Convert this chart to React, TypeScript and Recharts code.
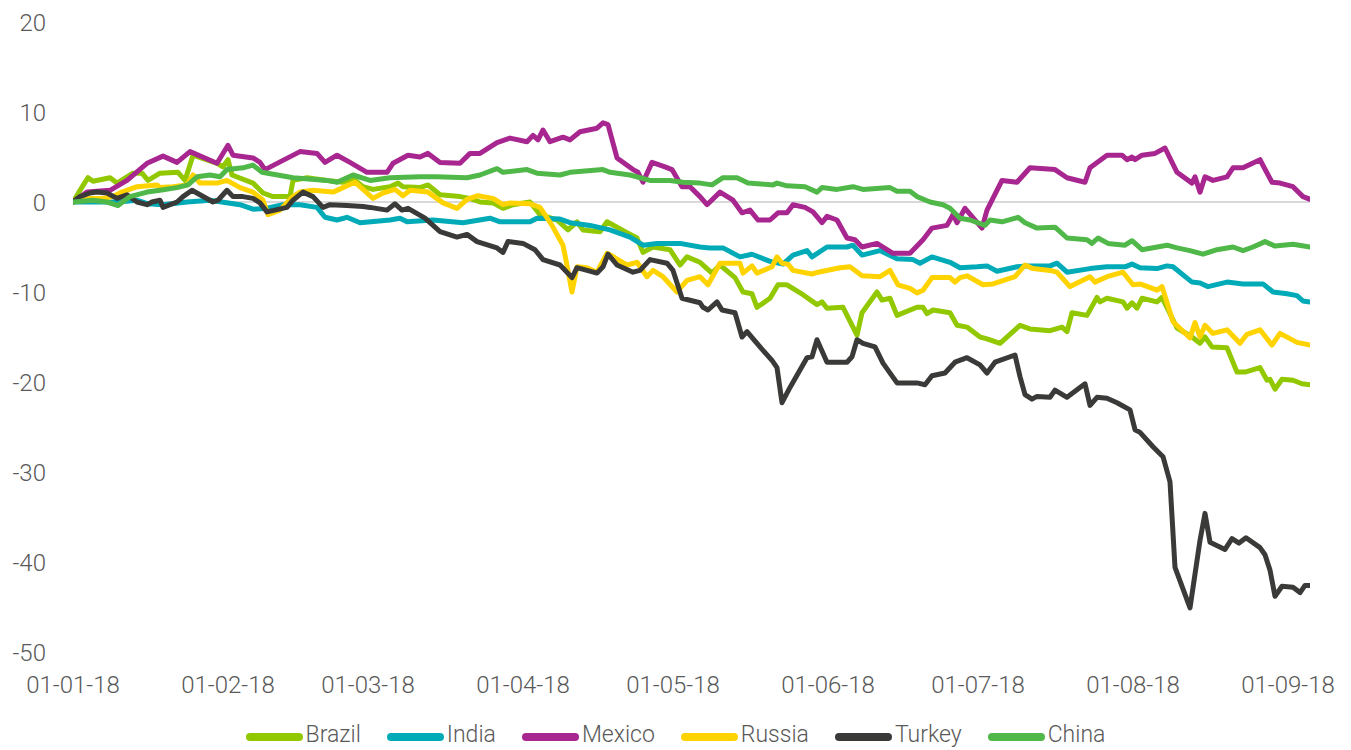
import React from "react";
import { LineChart, Line, XAxis, YAxis, ReferenceLine } from "recharts";

// x positions are days since 01-01-18
const brazilDays = [0, 1.4, 3, 4, 7.4, 8.8, 10.8, 12, 13.8, 15, 17.4, 21, 22.4, 24, 28.8, 30, 31, 31.8, 36, 38, 40, 43.4, 44, 46.8, 50.8, 54, 56, 58, 60, 63.4, 65, 66, 69.4, 71, 73.4, 77.4, 79.4, 81.4, 84, 86, 88, 91.4, 93.4, 96.8, 99, 100.8, 102, 105.4, 106.8, 110.8, 112.8, 114, 116, 119.4, 121.4, 122.8, 125.4, 127.8, 129.4, 132.4, 134, 135.8, 136.8, 139.4, 141, 142.8, 146, 148.8, 149.8, 150.8, 154, 156.8, 157.8, 160.8, 161.8, 163.4, 164.8, 168.8, 170, 170.8, 172, 175.4, 176.8, 178.8, 181.4, 182.8, 185.4, 189.4, 191.4, 195.4, 197.8, 198.8, 199.8, 202.8, 204.8, 205.4, 206.8, 210, 210.8, 211.8, 212.8, 213.8, 216.8, 217.8, 220.8, 223.8, 225.4, 226.4, 227.8, 230.8, 232.8, 234.4, 237.4, 238.8, 239.4, 240.4, 241.8, 244, 245.8, 247.4];
const brazilValues = [0, 1.3, 2.7, 2.3, 2.7, 2.1, 2.8, 3.2, 3.2, 2.4, 3.2, 3.3, 2.4, 5.2, 4.3, 3.9, 4.7, 3.0, 2.1, 1.0, 0.6, 0.6, 2.4, 2.7, 2.4, 2.2, 2.6, 1.7, 1.4, 1.7, 2.1, 1.7, 1.6, 1.9, 0.8, 0.6, 0.4, 0, -0.1, -0.7, -0.3, 0, -1.4, -2.0, -3.1, -2.2, -3.1, -3.3, -2.2, -3.4, -4.0, -5.6, -5.0, -5.3, -7.0, -6.1, -6.7, -7.9, -7.0, -8.4, -10.0, -10.2, -11.7, -10.7, -9.2, -9.2, -10.3, -11.4, -11.1, -11.8, -11.7, -14.8, -12.3, -10.0, -10.9, -10.7, -12.6, -11.7, -11.7, -12.4, -12.0, -12.3, -13.7, -13.9, -15.0, -15.2, -15.7, -13.7, -14.1, -14.3, -13.9, -14.4, -12.3, -12.6, -10.6, -11.1, -10.7, -11.1, -11.8, -11.2, -11.8, -10.7, -11.1, -10.6, -14.0, -15.0, -15.7, -15.0, -16.1, -16.2, -18.9, -18.9, -18.4, -19.8, -19.7, -20.8, -19.7, -19.8, -20.2, -20.3];

const indiaDays = [0, 9, 12.8, 15, 18, 22.8, 27.4, 33.4, 36, 38.8, 42, 45.4, 48.8, 50.4, 52.8, 54.8, 57.4, 63.4, 65.4, 66.8, 72, 78, 83.4, 85.4, 91.4, 92.8, 97.4, 99.4, 103.4, 107.4, 111.4, 114, 116.8, 121.4, 125.4, 127.4, 130, 133.4, 135.8, 139.4, 142, 144, 146.8, 147.8, 150.8, 154.8, 156, 157.8, 161.4, 164.8, 168, 169.4, 171.8, 175.4, 177.4, 180.8, 182.8, 184.8, 188.8, 190.8, 195.4, 196.8, 198.8, 203.4, 206.8, 210.4, 211.8, 213.4, 216.8, 218.8, 220, 223.8, 225.4, 227, 230.8, 234, 238, 240, 242.8, 244.8, 246, 247.4];
const indiaValues = [0, 0, 0.2, -0.2, -0.3, 0, 0.2, -0.3, -0.8, -0.7, -0.3, -0.3, -0.6, -1.7, -2.0, -1.7, -2.3, -2.0, -1.8, -2.2, -2.0, -2.3, -1.8, -2.2, -2.2, -1.8, -1.9, -2.3, -2.6, -3.1, -3.9, -4.8, -4.6, -4.6, -5.0, -5.1, -5.1, -6.1, -5.8, -6.6, -6.9, -5.9, -5.4, -6.1, -5.0, -5.0, -4.8, -5.9, -5.4, -6.3, -6.4, -6.8, -6.1, -6.7, -7.3, -7.2, -7.1, -7.7, -7.2, -7.1, -7.1, -6.8, -7.8, -7.4, -7.2, -7.2, -6.9, -7.3, -7.4, -7.1, -7.2, -8.9, -9.0, -9.4, -8.9, -9.1, -9.1, -10.0, -10.2, -10.4, -11.0, -11.1];

const mexicoDays = [0, 2.8, 7.4, 10.8, 14.8, 18, 20.8, 23.4, 28.8, 31, 32, 36, 37.4, 38.4, 45.4, 48.8, 50.4, 52.8, 55.4, 58.8, 62.8, 64, 67, 69.4, 71, 73.4, 77.4, 79.4, 81.4, 84.8, 87.4, 90.8, 92, 93, 94, 95.4, 98, 99.4, 101.4, 104.8, 106, 107, 108.8, 112, 113, 114, 115.8, 118.4, 119.8, 121.8, 123.4, 125.4, 126.8, 129.4, 132, 133.8, 135.4, 137, 139.4, 141, 142.8, 144, 146.4, 148, 149.8, 150.8, 152.8, 154.8, 156.4, 157.8, 160.8, 164, 167.4, 170, 171.8, 174.8, 176, 176.8, 178.4, 181.8, 182.8, 185.8, 188.8, 191.4, 196.4, 198.8, 202.4, 203.4, 206.8, 209.8, 210.8, 211.8, 212.4, 213.8, 216.4, 218.4, 220.8, 223.8, 224.4, 225.4, 226.4, 228, 230.8, 232, 234, 237.4, 239.8, 241.4, 244, 246, 247.4];
const mexicoValues = [0, 1.1, 1.3, 2.4, 4.3, 5.1, 4.4, 5.6, 4.3, 6.3, 5.2, 4.9, 4.4, 3.6, 5.6, 5.4, 4.4, 5.2, 4.4, 3.3, 3.3, 4.3, 5.2, 5.0, 5.4, 4.4, 4.3, 5.4, 5.4, 6.6, 7.1, 6.7, 7.4, 6.9, 8.0, 6.7, 7.2, 6.9, 7.8, 8.2, 8.8, 8.6, 4.9, 3.6, 3.3, 2.2, 4.4, 3.9, 3.6, 1.7, 1.7, 0.6, -0.3, 1.1, 0.2, -1.2, -0.9, -2.0, -2.0, -1.2, -1.2, -0.3, -0.6, -1.1, -2.3, -1.6, -2.0, -4.0, -4.2, -5.0, -4.6, -5.7, -5.7, -4.2, -2.9, -2.6, -1.4, -2.3, -0.7, -2.9, -0.9, 2.4, 2.2, 3.8, 3.6, 2.7, 2.2, 3.8, 5.2, 5.2, 4.7, 5.0, 4.7, 5.2, 5.4, 6.0, 3.3, 2.1, 2.8, 1.1, 2.8, 2.4, 2.8, 3.8, 3.8, 4.7, 2.2, 2.1, 1.7, 0.6, 0.3];

const russiaDays = [0, 3.4, 6, 8, 9.8, 12.8, 16.8, 17.4, 20, 22.8, 24, 25.4, 28.8, 30.8, 33.4, 36, 38, 39, 41.4, 44, 45.4, 48, 52, 56.4, 60, 62, 64.4, 66, 67.4, 71, 74, 76.8, 78.8, 81, 84, 86, 87.4, 91.4, 93.4, 95.8, 98, 99, 99.8, 100.8, 102.8, 104.8, 106.8, 108.4, 110.8, 112.8, 114.8, 116, 118, 120.8, 122.8, 125.4, 127, 129.4, 133.4, 134, 135.8, 136.8, 139.8, 140.8, 141.8, 143, 144, 147.8, 149, 153.4, 155.4, 157.8, 161.4, 163.4, 165, 167.4, 168.8, 170, 171.8, 175.4, 176.4, 177.4, 178.8, 182, 184, 188.4, 190.4, 192, 195.4, 196.8, 199.4, 203.4, 204.4, 206.8, 210, 212, 213.4, 216.8, 217.8, 220, 223.4, 224.4, 225.4, 226.4, 228, 230.8, 233.4, 234.8, 237.4, 239.8, 241.4, 244.8, 247.4];
const russiaValues = [0, 0.4, 0.4, 0.6, 1.1, 1.7, 1.9, 1.6, 1.7, 1.9, 3.0, 2.1, 2.1, 2.4, 1.6, 1.1, 0.2, -1.4, -0.9, 0.6, 1.1, 1.3, 1.1, 2.2, 0.4, 1.0, 1.4, 0.7, 1.3, 1.1, -0.1, -0.7, 0.3, 0.7, 0.4, -0.3, -0.1, -0.2, -0.6, -2.6, -4.8, -7.6, -10.0, -7.2, -7.3, -7.8, -5.7, -6.2, -7.0, -6.7, -8.3, -7.6, -8.3, -10.0, -8.7, -8.3, -9.2, -6.8, -6.8, -7.9, -7.1, -7.9, -7.2, -6.1, -6.8, -6.9, -7.6, -8.0, -7.8, -7.3, -7.2, -8.2, -8.3, -7.6, -9.2, -9.6, -10.1, -9.8, -8.4, -8.4, -8.9, -8.4, -8.2, -9.2, -9.1, -8.3, -7.0, -7.4, -7.6, -7.8, -9.4, -8.3, -8.9, -8.3, -7.8, -9.2, -9.1, -9.8, -9.4, -13.3, -15.1, -13.4, -15.0, -13.7, -14.6, -14.2, -15.7, -14.7, -14.2, -15.9, -14.6, -15.6, -15.9];

const turkeyDays = [0, 1.4, 3.4, 4.8, 6.8, 8.8, 10.8, 12.8, 14.8, 15.8, 17.4, 18, 20.8, 22, 23.8, 25.4, 28, 29, 30.8, 32, 34, 36, 37.4, 38.8, 42.8, 44, 46, 48, 50, 51.4, 54.8, 58, 59.4, 62.8, 64.4, 65.8, 67, 70.4, 73.4, 76.8, 78.8, 80.8, 84.8, 86, 87, 90, 92.4, 94, 97.4, 99.8, 100.8, 104.8, 106, 107, 108.8, 112, 113.4, 115.4, 118.8, 120, 121.8, 125.4, 126, 127, 128.8, 129.8, 132.4, 133.8, 134.8, 137.4, 139.8, 140.8, 141.8, 143.4, 146.8, 147.8, 148.8, 150.8, 154.8, 155.8, 156.8, 158, 160.4, 162, 164.8, 168.8, 170.4, 171.8, 174.4, 176.4, 178.8, 181.4, 182.8, 184.4, 188.4, 189.4, 190.4, 191.8, 192.8, 195.4, 196.4, 198.8, 202.4, 203.4, 204.8, 206.8, 208.8, 211.4, 212.4, 213.4, 216, 218, 219.4, 220.4, 223.4, 225.4, 226.4, 227.4, 230.4, 231.8, 233.2, 234.6, 237.4, 238.4, 239.4, 240.4, 241.8, 244, 245.4, 246.4, 247.4];
const turkeyValues = [0, 0.6, 1.0, 1.1, 1.0, 0.4, 0.8, 0, -0.3, 0, 0.2, -0.6, 0, 0.6, 1.3, 0.8, 0, 0.2, 1.3, 0.6, 0.6, 0.4, -0.1, -1.1, -0.6, 0.2, 1.1, 0.6, -0.6, -0.3, -0.4, -0.5, -0.6, -0.9, -0.2, -0.9, -0.7, -1.8, -3.3, -3.9, -3.6, -4.4, -5.1, -5.6, -4.4, -4.6, -5.3, -6.4, -7.0, -8.4, -7.3, -7.9, -7.2, -5.8, -7.0, -7.8, -7.6, -6.4, -6.8, -7.6, -10.7, -11.2, -11.7, -12.0, -11.1, -12.0, -12.3, -15.0, -14.4, -16.1, -17.6, -18.4, -22.3, -20.6, -17.3, -17.2, -15.3, -17.8, -17.8, -17.2, -15.3, -15.7, -16.1, -17.9, -20.1, -20.1, -20.3, -19.3, -19.0, -17.8, -17.3, -18.1, -19.0, -17.8, -17.0, -19.4, -21.4, -21.9, -21.6, -21.7, -20.9, -21.7, -20.2, -22.6, -21.7, -21.8, -22.3, -23.1, -25.3, -25.6, -27.2, -28.3, -31.1, -40.6, -45.1, -37.6, -34.6, -37.8, -38.6, -37.4, -37.9, -37.3, -38.4, -39.2, -40.9, -43.8, -42.7, -42.8, -43.4, -42.6, -42.6];

const chinaDays = [0, 4, 6.8, 9, 11.4, 14.8, 17.4, 20.8, 23, 24.8, 27.4, 29.4, 30.8, 34, 36, 37.8, 44, 50.8, 52.8, 56, 59.4, 63.4, 69.4, 72.8, 78.8, 81.4, 84.8, 86, 90.8, 92.8, 97.4, 99.4, 106, 107.4, 111.4, 115.4, 119.4, 122, 125.4, 127.8, 130, 132.8, 135, 140, 140.8, 142.8, 146.4, 148.8, 149.8, 152.8, 156, 158, 163.4, 164.8, 167.4, 168.8, 171.4, 174, 175.4, 177.4, 179.4, 182.4, 183.4, 185.8, 189, 190.4, 192.8, 196.4, 198.8, 202.8, 203.8, 205, 207, 210.4, 211.8, 213.8, 218.8, 220.8, 223.4, 226, 228.8, 232, 234, 236, 238.4, 240.4, 244, 247.4];
const chinaValues = [0, 0.2, 0, -0.4, 0.6, 1.1, 1.3, 1.6, 1.9, 2.8, 3.0, 2.8, 3.6, 3.8, 4.1, 3.3, 2.7, 2.4, 2.2, 3.0, 2.4, 2.7, 2.8, 2.8, 2.7, 3.0, 3.7, 3.3, 3.6, 3.2, 3.0, 3.3, 3.6, 3.3, 3.0, 2.4, 2.4, 2.2, 2.1, 1.9, 2.7, 2.7, 2.1, 1.9, 2.1, 1.8, 1.7, 1.1, 1.6, 1.4, 1.7, 1.4, 1.6, 1.2, 1.2, 0.6, 0, -0.3, -0.7, -1.8, -2.0, -2.6, -2.0, -2.2, -1.7, -2.3, -2.9, -2.8, -4.0, -4.2, -4.6, -4.0, -4.6, -4.8, -4.3, -5.3, -4.8, -5.1, -5.4, -5.8, -5.3, -5.0, -5.4, -5.0, -4.4, -4.9, -4.7, -5.0];

const monthTicks = [0, 31, 59, 90, 120, 151, 181, 212, 243];
const monthLabels = ["01-01-18", "01-02-18", "01-03-18", "01-04-18", "01-05-18", "01-06-18", "01-07-18", "01-08-18", "01-09-18"];
const yTicks = [-50, -40, -30, -20, -10, 0, 10, 20];

const build = (days: number[], values: number[]) => days.map((d, i) => ({ day: d, value: values[i] }));

const series = [
  { name: "Brazil", color: "#92c800", data: build(brazilDays, brazilValues) },
  { name: "India", color: "#00aab6", data: build(indiaDays, indiaValues) },
  { name: "Mexico", color: "#a8268f", data: build(mexicoDays, mexicoValues) },
  { name: "Russia", color: "#ffd300", data: build(russiaDays, russiaValues) },
  { name: "Turkey", color: "#3a3a39", data: build(turkeyDays, turkeyValues) },
  { name: "China", color: "#50b848", data: build(chinaDays, chinaValues) },
];

const FONT = "Roboto, 'DejaVu Sans', sans-serif";
const tickStyle = { fontFamily: FONT, fontSize: 24, fill: "#595959", fontWeight: 300 };

export default function App() {
  return (
    <div style={{ position: "relative", width: 1335, height: 742 }}>
      <LineChart width={1335} height={742} margin={{ top: 14, right: 33, bottom: 58, left: 0 }}>
        <XAxis
          type="number"
          dataKey="day"
          domain={[0, 247.4]}
          ticks={monthTicks}
          interval={0}
          tickFormatter={(v: number) => monthLabels[monthTicks.indexOf(v)] ?? ""}
          axisLine={false}
          tickLine={false}
          tickSize={0}
          tickMargin={24}
          height={40}
          tick={tickStyle}
          allowDataOverflow
        />
        <YAxis
          type="number"
          domain={[-50, 20]}
          ticks={yTicks}
          interval={0}
          axisLine={false}
          tickLine={false}
          tickSize={0}
          tickMargin={27}
          width={65}
          tick={tickStyle}
        />
        <ReferenceLine y={0} stroke="#d9d9d9" strokeWidth={2} />
        {series.map((s) => (
          <Line
            key={s.name}
            data={s.data}
            dataKey="value"
            name={s.name}
            type="linear"
            stroke={s.color}
            strokeWidth={5}
            strokeLinejoin="round"
            strokeLinecap="round"
            dot={false}
            activeDot={false}
            isAnimationActive={false}
          />
        ))}
      </LineChart>
      <div
        style={{
          position: "absolute",
          top: 717,
          left: 0,
          width: 1335,
          height: 20,
          display: "flex",
          justifyContent: "center",
          alignItems: "center",
          fontFamily: FONT,
          fontWeight: 300,
          fontSize: 23,
          lineHeight: "20px",
          color: "#595959",
          whiteSpace: "nowrap",
        }}
      >
        {series.map((s, i) => (
          <div
            key={s.name}
            style={{ display: "flex", alignItems: "center", height: 20, marginRight: i < series.length - 1 ? 26 : 0 }}
          >
            <div style={{ width: 57, height: 8, borderRadius: 4, background: s.color, marginRight: 3, marginTop: 3 }} />
            <span style={{ lineHeight: "20px", height: 20, display: "inline-block" }}>{s.name}</span>
          </div>
        ))}
      </div>
    </div>
  );
}
